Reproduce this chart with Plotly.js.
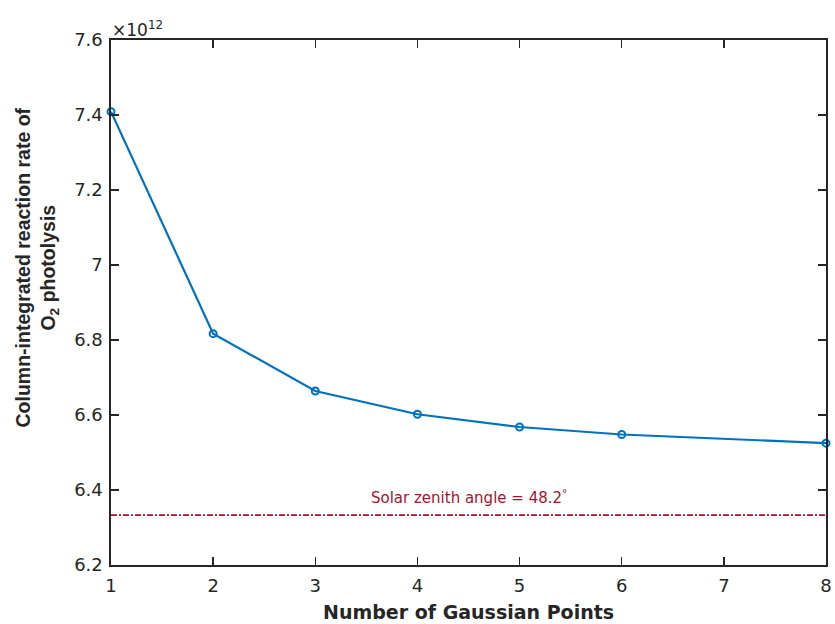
<!DOCTYPE html>
<html>
<head>
<meta charset="utf-8">
<script src="https://cdn.plot.ly/plotly-3.0.1.min.js"></script>
<style>
  html, body { margin: 0; padding: 0; background: #fff; }
  #chart { width: 835px; height: 624px; }
</style>
</head>
<body>
<div id="chart"></div>
<script>
// Column-integrated O2 photolysis rate vs. number of Gaussian quadrature points (units of 1e12)
const gaussianPoints = [1, 2, 3, 4, 5, 6, 8];
const reactionRate = [7.409, 6.817, 6.664, 6.602, 6.568, 6.548, 6.525];

// Reference value at the given solar zenith angle
const zenithRate = 6.333;
const zenithLabel = 'Solar zenith angle = 48.2<sup>°</sup>';

const xTicks = [1, 2, 3, 4, 5, 6, 7, 8];
const yTicks = [6.2, 6.4, 6.6, 6.8, 7.0, 7.2, 7.4, 7.6];
const yTickText = ['6.2', '6.4', '6.6', '6.8', '7', '7.2', '7.4', '7.6'];

const blue = '#0072BD';
const red = '#A2142F';
const axisColor = '#262626';
const wideFont = 'DejaVu Sans, Verdana, sans-serif';
const narrowFont = 'Liberation Sans, Arial, Helvetica, sans-serif';

const traces = [
  {
    x: [xTicks[0], xTicks[xTicks.length - 1]],
    y: [zenithRate, zenithRate],
    mode: 'lines',
    line: { color: red, width: 1.8, dash: '6px,2px,2px,2px' },
    hoverinfo: 'skip',
    showlegend: false
  },
  {
    x: gaussianPoints,
    y: reactionRate,
    mode: 'lines+markers',
    line: { color: blue, width: 2.2 },
    marker: { symbol: 'circle-open', size: 7, color: blue, line: { width: 2, color: blue } },
    showlegend: false,
    cliponaxis: false
  }
];

const axisCommon = {
  ticks: 'inside',
  ticklen: 8,
  tickwidth: 1.3,
  tickcolor: axisColor,
  showline: true,
  linecolor: axisColor,
  linewidth: 1.6,
  mirror: 'ticks',
  showgrid: false,
  zeroline: false,
  tickfont: { family: wideFont, size: 18, color: axisColor }
};

const layout = {
  width: 835,
  height: 624,
  margin: { l: 111, r: 9, t: 40, b: 59 },
  paper_bgcolor: '#fff',
  plot_bgcolor: '#fff',
  font: { family: wideFont, size: 16, color: axisColor },
  xaxis: Object.assign({}, axisCommon, {
    range: [1, 8],
    tickvals: xTicks,
    ticktext: xTicks.map(String),
    ticklabelstandoff: 4
  }),
  yaxis: Object.assign({}, axisCommon, {
    range: [6.2, 7.6],
    tickvals: yTicks,
    ticktext: yTickText,
    ticklabelstandoff: 3
  }),
  annotations: [
    {
      text: '<b>Number of Gaussian Points</b>',
      xref: 'paper', yref: 'paper',
      x: 0.5, y: 0, yshift: -34,
      xanchor: 'center', yanchor: 'top',
      showarrow: false,
      font: { family: wideFont, size: 19, color: axisColor }
    },
    {
      text: '<b>Column-integrated reaction rate of</b><br><b>O<sub>2</sub> photolysis</b>',
      xref: 'paper', yref: 'paper',
      x: 0, xshift: -75,
      y: 0.5, yshift: 35,
      xanchor: 'center', yanchor: 'middle',
      textangle: -90,
      showarrow: false,
      font: { family: narrowFont, size: 19.5, color: axisColor }
    },
    {
      text: '×10<sup>12</sup>',
      xref: 'paper', yref: 'paper',
      x: 0, y: 1, xshift: -1, yshift: -2,
      xanchor: 'left', yanchor: 'bottom',
      showarrow: false,
      font: { family: wideFont, size: 17, color: axisColor }
    },
    {
      text: zenithLabel,
      xref: 'x', yref: 'y',
      x: 4.5, y: zenithRate,
      xanchor: 'center', yanchor: 'bottom',
      yshift: 6,
      showarrow: false,
      font: { family: wideFont, size: 15, color: red }
    }
  ]
};

Plotly.newPlot('chart', traces, layout, { displayModeBar: false, staticPlot: true });
</script>
</body>
</html>
